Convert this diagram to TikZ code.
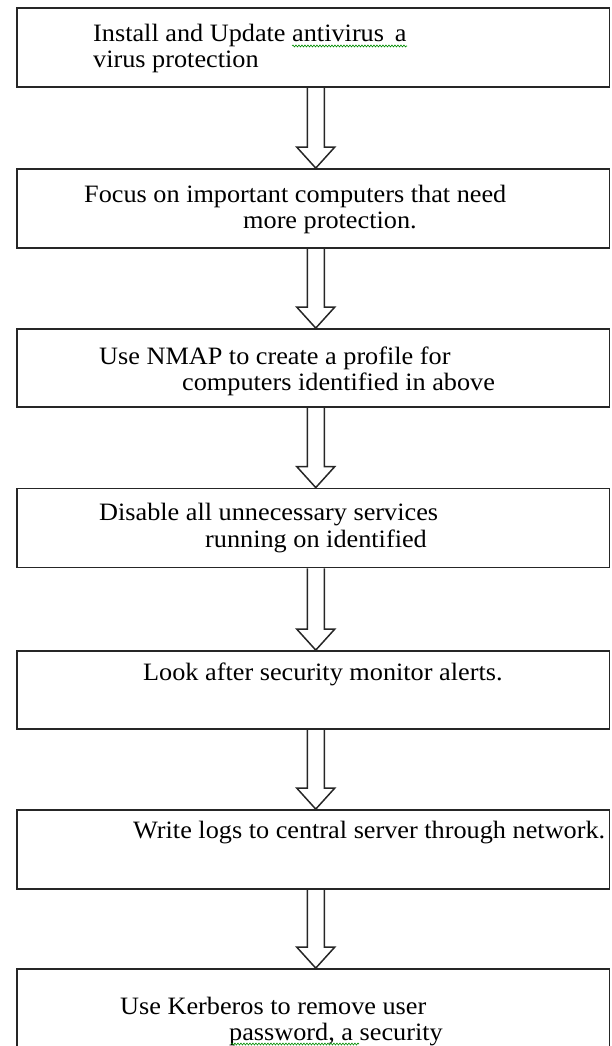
\documentclass[tikz,border=0pt]{standalone}
\usepackage{fontspec}
\setmainfont{Liberation Serif}[FakeStretch=1.05]
\usetikzlibrary{calc,decorations.pathmorphing}
\tikzset{
  stepbox/.style={draw=black!85, line width=1.8pt, minimum width=592.5pt, minimum height=79pt, inner sep=0pt},
  txt/.style={anchor=base west, inner sep=0pt, font=\fontsize{25pt}{26pt}\selectfont},
  hollow/.style={draw=black!85, line width=1.5pt, line join=miter},
  squig/.style={draw=green!55!black, line width=0.6pt, decorate, decoration={snake, amplitude=1pt, segment length=3pt}}
}
\newcommand\blockarrow[2]{%
  \draw[hollow] ($(#1.south)+(-6,0)$) -- ($(#2.north)+(-6,-21)$) -- ($(#2.north)+(-16.5,-21)$)
    -- ($(#2.north)+(2.5,0)$) -- ($(#2.north)+(21.5,-21)$) -- ($(#2.north)+(11,-21)$) -- ($(#1.south)+(11,0)$);
}
\begin{document}
\begin{tikzpicture}[x=1pt,y=-1pt]
\useasboundingbox (0,0) rectangle (612,1046);
\node[stepbox] (b1) at (313.25,47.5) {};
\node[stepbox] (b2) at (313.25,208.5) {};
\node[stepbox, minimum height=78pt] (b3) at (313.25,368) {};
\node[stepbox] (b4) at (313.25,528) {};
\node[stepbox, minimum height=78pt] (b5) at (313.25,690) {};
\node[stepbox] (b6) at (313.25,849.5) {};
\node[stepbox] (b7) at (313.25,1008.5) {};

\node[txt] (t1a) at (93,42) {Install and Update antivirus\, a};
\node[txt] (t1b) at (93,68) {virus protection};
\node[txt] (t2a) at (84,202) {Focus on important computers that need};
\node[txt] (t2b) at (243,228) {more protection.};
\node[txt] (t3a) at (99,364) {Use NMAP to create a profile for};
\node[txt] (t3b) at (182,390) {computers identified in above};
\node[txt] (t4a) at (99,520) {Disable all unnecessary services};
\node[txt] (t4b) at (205,547) {running on identified};
\node[txt] (t5a) at (143,680) {Look after security monitor alerts.};
\node[txt] (t6a) at (133,838) {Write logs to central server through network.};
\node[txt] (t7a) at (120,1014) {Use Kerberos to remove user};
\node[txt] (t7b) at (229,1040) {password, a security};

\draw[squig] ($(t1a.base west)+(199,4)$) -- ($(t1a.base west)+(314,4)$);
\draw[squig] ($(t7b.base west)+(2,4)$) -- ($(t7b.base west)+(130,4)$);

\blockarrow{b1}{b2}
\blockarrow{b2}{b3}
\blockarrow{b3}{b4}
\blockarrow{b4}{b5}
\blockarrow{b5}{b6}
\blockarrow{b6}{b7}
\end{tikzpicture}
\end{document}
